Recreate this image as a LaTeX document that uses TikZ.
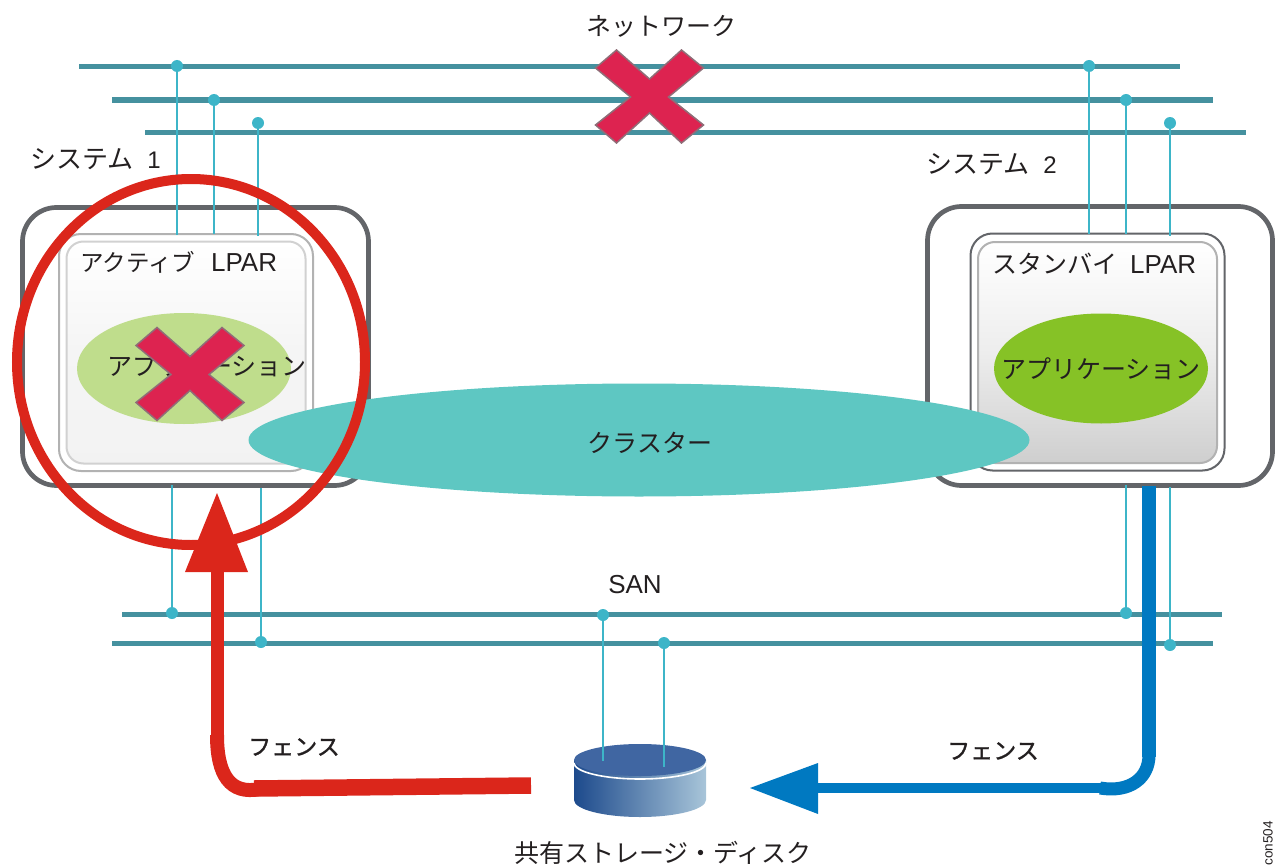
\documentclass[tikz,border=0pt]{standalone}
\usepackage{fontspec}
\setmainfont{Liberation Sans}
\newfontfamily\cjk{Noto Sans CJK JP}
\newfontfamily\cjkm[FakeBold=1.3]{Noto Sans CJK JP}
\usetikzlibrary{shapes.geometric}
\definecolor{bus}{HTML}{45919F}
\definecolor{tap}{HTML}{3DB5C8}
\definecolor{boxg}{HTML}{636569}
\definecolor{redc}{HTML}{DB261B}
\definecolor{bluec}{HTML}{0079C1}
\definecolor{xred}{HTML}{DD2350}
\definecolor{xedge}{HTML}{8F6E78}
\definecolor{teal}{HTML}{5EC7C2}
\definecolor{ink}{HTML}{231F20}
\tikzset{
 busline/.style={draw=bus,line width=5pt},
 tapline/.style={draw=tap,line width=2pt},
 dot/.style={circle,fill=tap,inner sep=0pt,minimum size=12pt},
 lbl/.style={inner sep=0pt,text=ink,font=\cjk\fontsize{25}{30}\selectfont},
 fence/.style={inner sep=0pt,text=ink,font=\cjkm\fontsize{23}{27}\selectfont},
 sys/.style={draw=boxg,line width=4.7pt,rounded corners=34pt,fill=white},
 xmark/.style={fill=xred,draw=xedge,line width=1.5pt,line join=miter},
}
\newcommand{\sanstxt}[1]{{\rmfamily\fontsize{26}{30}\selectfont #1}}
\newcommand{\xshape}[2]{% cx cy
 \path[xmark,shift={(#1,#2)}] (-54,-29)--(-33,-47)--(0,-18)--(32,-47)--(54,-29)--(19,0)--(54,28)--(32,46)--(0,16)--(-33,46)--(-54,28)--(-19,0)--cycle;}
\begin{document}
\begin{tikzpicture}[x=1pt,y=-1pt]
\useasboundingbox (0,0) rectangle (1275,867);
% top network buses
\draw[busline] (79,67)--(1180,67);
\draw[busline] (112,100)--(1213,100);
\draw[busline] (145,132)--(1246,132);
% system boxes
\node[sys,minimum width=346pt,minimum height=278pt] (s1) at (195.5,346.5) {};
\node[sys,minimum width=345pt,minimum height=279pt] (s2) at (1100,346) {};
% lpars
\node[draw=black!30,line width=2pt,rounded corners=22pt,fill=white,minimum width=254pt,minimum height=237pt] (l1o) at (186,352.5) {};
\node[draw=black!18,line width=2pt,rounded corners=17pt,top color=white,bottom color=black!5,middle color=black!4,minimum width=239pt,minimum height=222pt] (l1i) at (186,352.5) {};
\node[draw=boxg,line width=2pt,rounded corners=22pt,fill=white,minimum width=254pt,minimum height=237pt] (l2o) at (1097.5,352) {};
\node[draw=black!30,line width=2pt,rounded corners=17pt,top color=white,bottom color=black!19,middle color=black!7,minimum width=239pt,minimum height=221pt] (l2i) at (1097.5,352.5) {};
% network taps
\coordinate (t1) at (177,66); \coordinate (t2) at (214,100); \coordinate (t3) at (258,123);
\coordinate (t4) at (1089,66); \coordinate (t5) at (1126,100); \coordinate (t6) at (1170,123);
\foreach \n/\tx/\ty in {t1/177/235,t2/214/234,t3/258/236,t4/1089/234,t5/1126/234,t6/1170/236}{
 \draw[tapline] (\n)--(\tx,\ty);
 \node[dot] at (\n) {};
}
% SAN buses
\draw[busline] (122,614)--(1222,614);
\draw[busline] (112,643)--(1213,643);
% SAN taps
\coordinate (b1) at (172,613); \coordinate (b2) at (261,642); \coordinate (b3) at (1126,613); \coordinate (b4) at (1170,645);
\coordinate (b5) at (603,615); \coordinate (b6) at (664,643);
\foreach \n/\tx/\ty in {b1/172/485,b2/261/488,b3/1126/485,b4/1170/487}{
 \draw[tapline] (\n)--(\tx,\ty);
 \node[dot] at (\n) {};
}
% disk
\definecolor{diskl}{HTML}{1D4A8C}
\definecolor{diskr}{HTML}{A8C5D9}
\path[left color=diskl,right color=diskr] (574,760) -- (574,800) arc[start angle=180,end angle=0,x radius=66,y radius=17] -- (706,760) -- cycle;
\draw[white,line width=1.6pt] (574,763) arc[start angle=180,end angle=0,x radius=66,y radius=16];
\node[ellipse,fill={rgb,255:red,64;green,102;blue,162},minimum width=132pt,minimum height=32pt,inner sep=0pt] (disk) at (640,760) {};
\foreach \n/\ty in {b5/761,b6/767}{
 \draw[tapline] (\n)--(\n|-0,\ty);
 \node[dot] at (\n) {};
}
% app ellipses
\node[ellipse,fill={rgb,255:red,191;green,221;blue,140},minimum width=214pt,minimum height=111pt,inner sep=0pt] (a1) at (184,368.5) {};
\node[lbl] (a1t) at (207,366) {アプリケーション};
\xshape{190}{374.5}
\node[ellipse,fill={rgb,255:red,134;green,194;blue,38},minimum width=214pt,minimum height=110pt,inner sep=0pt] (a2) at (1101,368.5) {};
\node[lbl] (a2t) at (1101,369) {アプリケーション};
% cluster
\node[ellipse,fill=teal,minimum width=781pt,minimum height=113pt,inner sep=0pt] (cl) at (639,440) {};
\node[lbl] (clt) at (650,443) {クラスター};
% red circle
\node[ellipse,draw=redc,line width=10pt,minimum width=348pt,minimum height=366pt,inner sep=0pt] (rc) at (191,362) {};
% red arrow
\coordinate (rs) at (531,785.5); \coordinate (rc1) at (254,788.5); \coordinate (rt) at (217,493);
\draw[redc,line width=16.5pt] (rs)--(rc1);
\draw[redc,line width=14pt] (260,789) .. controls (230,795) and (217,775) .. (217,735);
\draw[redc,line width=13pt] (217,737) -- (217,570);
\path[fill=redc] (rt)--(248,572)--(185,572)--cycle;
% blue arrow
\coordinate (bs) at (1149,486); \coordinate (bt) at (750,788);
\draw[bluec,line width=14pt] (bs)--(1149,757);
\draw[bluec,line width=13pt] (1149,755) .. controls (1149,778) and (1130,793) .. (1100,788);
\draw[bluec,line width=10pt] (1104,788) -- (815,788);
\path[fill=bluec] (bt)--(818,763)--(818,814)--cycle;
% big X
\xshape{649.5}{97}
% labels
\node[lbl] (net) at (661,26) {ネットワーク};
\node[anchor=west,inner sep=0pt,text=ink,font=\cjk\fontsize{26}{30}\selectfont] (sy1) at (30,159) {システム\hspace{14pt}\sanstxt{\fontsize{24}{28}\selectfont 1}};
\node[anchor=west,inner sep=0pt,text=ink,font=\cjk\fontsize{26}{30}\selectfont] (sy2) at (926,164) {システム\hspace{14pt}\sanstxt{\fontsize{24}{28}\selectfont 2}};
\node[anchor=west,inner sep=0pt,text=ink,font=\cjk\fontsize{23.5}{28}\selectfont] (al) at (80,262) {アクティブ\hspace{16pt}\sanstxt{LPAR}};
\node[anchor=west,inner sep=0pt,text=ink,font=\cjk\fontsize{25}{30}\selectfont] (sl) at (992,264) {スタンバイ\hspace{13pt}\sanstxt{LPAR}};
\node[inner sep=0pt,text=ink] (san) at (635,585) {\sanstxt{SAN}};
\node[fence] (f1) at (294,747) {フェンス};
\node[fence] (f2) at (993,751) {フェンス};
\node[lbl] (dl) at (663,853) {共有ストレージ・ディスク};
\node[rotate=90,inner sep=0pt,text=ink,font=\fontsize{13.5}{16}\selectfont] (cn) at (1268,843.5) {con504};
\end{tikzpicture}
\end{document}
